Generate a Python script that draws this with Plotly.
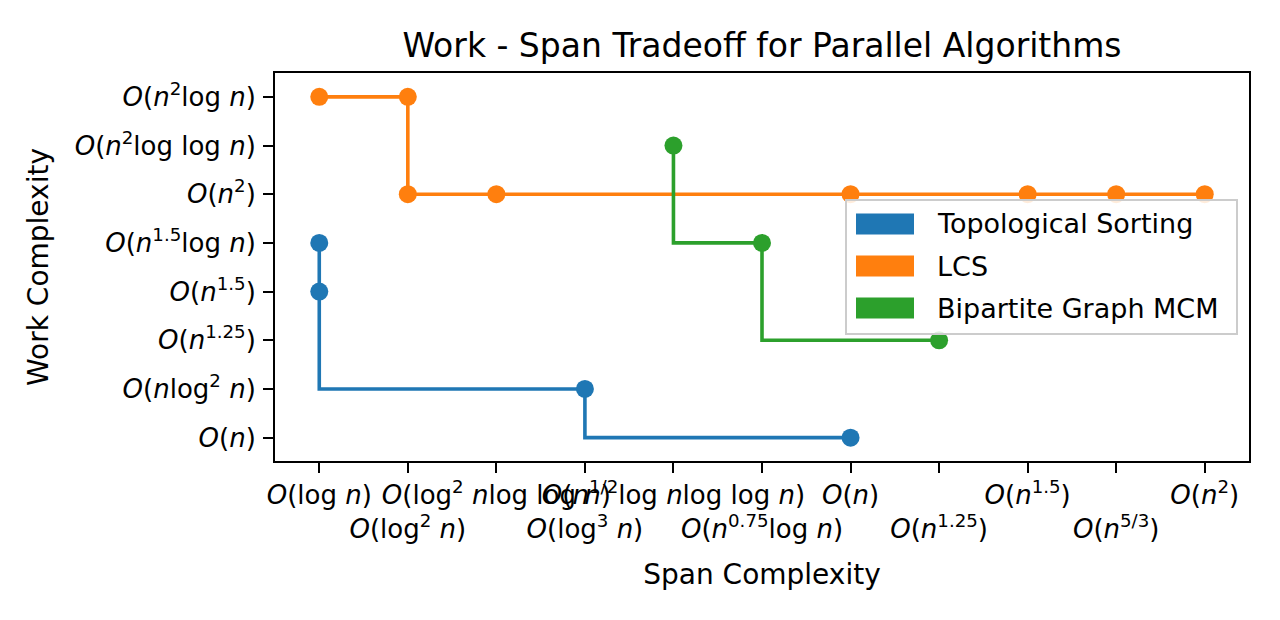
import plotly.graph_objects as go

# ---- data ----
x_tick_labels = [
    "<i>O</i>(log <i>n</i>)",
    "<i>O</i>(log<sup>2</sup> <i>n</i>)",
    "<i>O</i>(log<sup>2</sup> <i>n</i>log log <i>n</i>)",
    "<i>O</i>(log<sup>3</sup> <i>n</i>)",
    "<i>O</i>(<i>n</i><sup>1/2</sup>log <i>n</i>log log <i>n</i>)",
    "<i>O</i>(<i>n</i><sup>0.75</sup>log <i>n</i>)",
    "<i>O</i>(<i>n</i>)",
    "<i>O</i>(<i>n</i><sup>1.25</sup>)",
    "<i>O</i>(<i>n</i><sup>1.5</sup>)",
    "<i>O</i>(<i>n</i><sup>5/3</sup>)",
    "<i>O</i>(<i>n</i><sup>2</sup>)",
]
y_tick_labels = [
    "<i>O</i>(<i>n</i>)",
    "<i>O</i>(<i>n</i>log<sup>2</sup> <i>n</i>)",
    "<i>O</i>(<i>n</i><sup>1.25</sup>)",
    "<i>O</i>(<i>n</i><sup>1.5</sup>)",
    "<i>O</i>(<i>n</i><sup>1.5</sup>log <i>n</i>)",
    "<i>O</i>(<i>n</i><sup>2</sup>)",
    "<i>O</i>(<i>n</i><sup>2</sup>log log <i>n</i>)",
    "<i>O</i>(<i>n</i><sup>2</sup>log <i>n</i>)",
]

series_names = ["Topological Sorting", "LCS", "Bipartite Graph MCM"]
series_colors = ["#1f77b4", "#ff7f0e", "#2ca02c"]
topo_span = [0, 0, 3, 6]
topo_work = [4, 3, 1, 0]
lcs_span = [0, 1, 1, 2, 6, 8, 9, 10]
lcs_work = [7, 7, 5, 5, 5, 5, 5, 5]
mcm_span = [4, 5, 7]
mcm_work = [6, 4, 2]

series_x = [topo_span, lcs_span, mcm_span]
series_y = [topo_work, lcs_work, mcm_work]

FONT = "DejaVu Sans"

fig = go.Figure()
for name, color, xs, ys in zip(series_names, series_colors, series_x, series_y):
    fig.add_trace(go.Scatter(
        x=xs, y=ys, name=name, mode="lines+markers",
        line=dict(color=color, width=3.6, shape="vh"),
        marker=dict(color=color, size=18),
        showlegend=False,
    ))

# x tick labels alternate between two rows
ticktext = [lab if i % 2 == 0 else "&#8203;<br>" + lab for i, lab in enumerate(x_tick_labels)]

# the page body adds an 8px offset; work in figure coordinates
OFF = 8
W, H = 1272, 612
L, R, T, B = 275 - OFF, 31, 73 - OFF, 159

fig.update_layout(
    width=W, height=H,
    margin=dict(l=L, r=R, t=T, b=B),
    paper_bgcolor="white", plot_bgcolor="white",
    font=dict(family=FONT, size=27, color="black"),
    title=dict(text="Work - Span Tradeoff for Parallel Algorithms",
               xref="paper", x=0.5, xanchor="center",
               yref="container", y=1 - (45 - OFF) / H, yanchor="middle",
               font=dict(size=33, family=FONT)),
)
fig.update_xaxes(
    range=[-0.5, 10.5], tickvals=list(range(len(x_tick_labels))), ticktext=ticktext,
    showgrid=False, zeroline=False, showline=True, linecolor="black", linewidth=2,
    mirror=True, ticks="outside", ticklen=10, tickwidth=2, tickcolor="black",
    tickangle=0, tickfont=dict(size=26),
    title=dict(text="Span Complexity", font=dict(size=28), standoff=21),
)
fig.update_yaxes(
    range=[-0.48, 7.49], tickvals=list(range(len(y_tick_labels))), ticktext=y_tick_labels,
    showgrid=False, zeroline=False, showline=True, linecolor="black", linewidth=2,
    mirror=True, ticks="outside", ticklen=10, tickwidth=2, tickcolor="black",
    tickfont=dict(size=26), ticklabelstandoff=2,
    title=dict(text="Work Complexity", font=dict(size=28), standoff=18),
)

pw, ph = W - L - R, H - T - B

def px(x):
    return (x - OFF - L) / pw

def py(y):
    return 1 - (y - OFF - T) / ph

# legend box (matplotlib-style patches), coordinates in page pixels
fig.add_shape(type="rect", xref="paper", yref="paper",
              x0=px(846), x1=px(1237), y0=py(334), y1=py(200),
              fillcolor="rgba(255,255,255,0.85)", line=dict(color="#cccccc", width=2),
              layer="above")
row_y = [224, 266, 308]
for name, color, yy in zip(series_names, series_colors, row_y):
    fig.add_shape(type="rect", xref="paper", yref="paper",
                  x0=px(856), x1=px(914), y0=py(yy + 10.5), y1=py(yy - 10.5),
                  fillcolor=color, line=dict(width=0), layer="above")
    fig.add_annotation(xref="paper", yref="paper", x=px(935), y=py(yy),
                       text=name, showarrow=False, xanchor="left", yanchor="middle",
                       font=dict(size=27, family=FONT, color="black"))

fig.write_html("out.html")
